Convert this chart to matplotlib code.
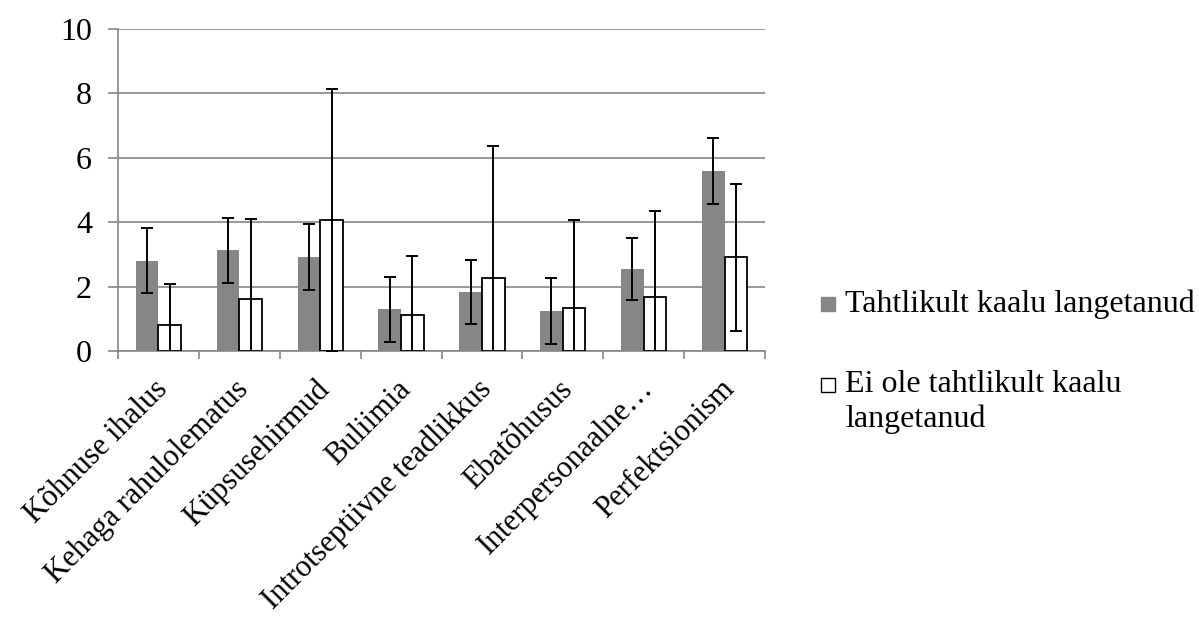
import matplotlib

matplotlib.use("Agg")
import matplotlib.pyplot as plt
import numpy as np
from matplotlib.patches import Rectangle
from matplotlib.transforms import ScaledTranslation

categories = [
    "Kõhnuse ihalus",
    "Kehaga rahulolematus",
    "Küpsusehirmud",
    "Buliimia",
    "Introtseptiivne teadlikkus",
    "Ebatõhusus",
    "Interpersonaalne…",
    "Perfektsionism",
]
series_names = ["Tahtlikult kaalu langetanud", "Ei ole tahtlikult kaalu\nlangetanud"]
voluntary = [2.80, 3.13, 2.92, 1.29, 1.84, 1.25, 2.54, 5.59]
voluntary_err = [1.01, 1.01, 1.02, 1.02, 1.00, 1.03, 0.97, 1.02]
not_voluntary = [0.81, 1.61, 4.07, 1.13, 2.28, 1.32, 1.69, 2.91]
not_voluntary_err = [1.26, 2.49, 4.06, 1.82, 4.09, 2.74, 2.65, 2.28]

plt.rcParams["font.family"] = ["Liberation Serif", "DejaVu Serif"]

GRID = "#868686"
GRAY = "#868686"
W, H = 1199, 617
fig = plt.figure(figsize=(W / 100, H / 100), dpi=100)
ax = fig.add_axes([118 / W, 1 - 351 / H, 647 / W, 322 / H])

x = np.arange(len(categories))
width = 0.28
err_kw = dict(ecolor="black", elinewidth=1.4, capsize=4.5, capthick=1.4)
ax.bar(x - width / 2, voluntary, width, color=GRAY, yerr=voluntary_err,
       error_kw=err_kw, zorder=3)
ax.bar(x + width / 2, not_voluntary, width, color="white", edgecolor="black",
       linewidth=1.3, yerr=not_voluntary_err, error_kw=err_kw, zorder=3)

ax.set_xlim(-0.5, len(categories) - 0.5)
ax.set_ylim(0, 10)
ax.set_yticks(range(0, 11, 2))
ax.grid(axis="y", color=GRID, linewidth=1.2, zorder=0)

ax.set_xticks(np.arange(-0.5, len(categories), 1.0))
ax.set_xticklabels([])
ax.set_xticks(x, minor=True)
ax.set_xticklabels(categories, minor=True, rotation=45, ha="right",
                   rotation_mode="anchor", fontsize=22)
ax.tick_params(axis="x", which="minor", length=0, pad=17)
ax.tick_params(axis="x", which="major", length=5.5, color=GRID, width=1.2)
ax.tick_params(axis="y", length=7.2, color=GRID, width=1.2, labelsize=23, pad=11.5)
shift = ScaledTranslation(-5 / 100, 0, fig.dpi_scale_trans)
for lab in ax.get_xticklabels(minor=True):
    lab.set_transform(lab.get_transform() + shift)

for side in ("top", "right"):
    ax.spines[side].set_visible(False)
for side in ("left", "bottom"):
    ax.spines[side].set_color(GRID)
    ax.spines[side].set_linewidth(1.2)

# legend drawn by hand so the box sits next to the first text line
legend_rows = [(297, 311.5), (378, 391.5)]
styles = [dict(facecolor=GRAY, edgecolor=GRAY), dict(facecolor="white", edgecolor="black")]
for (top, base), name, st in zip(legend_rows, series_names, styles):
    fig.patches.append(Rectangle((821 / W, 1 - (top + 14) / H), 14 / W, 14 / H,
                                 transform=fig.transFigure, linewidth=1.0, **st))
    for i, line in enumerate(name.split("\n")):
        fig.text(845 / W, 1 - (base + 35 * i) / H, line, fontsize=23,
                 va="baseline", ha="left")

fig.savefig("out.png", dpi=100)
